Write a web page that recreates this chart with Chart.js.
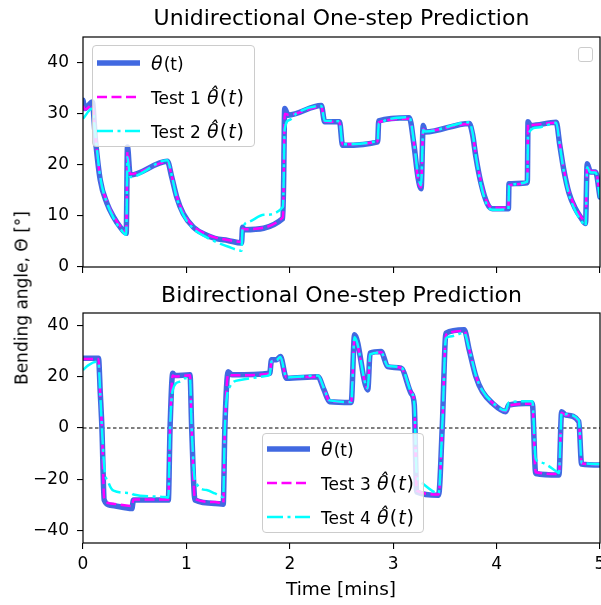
<!DOCTYPE html>
<html><head><meta charset="utf-8">
<script src="https://cdn.jsdelivr.net/npm/chart.js@4.4.0/dist/chart.umd.min.js"></script>
<style>
html,body{margin:0;padding:0;background:#fff;}
#wrap{position:relative;width:601px;height:605px;overflow:hidden;font-family:'DejaVu Sans',sans-serif;color:#000;}
canvas{position:absolute;left:0;}
.title{position:absolute;left:83px;width:517px;text-align:center;font-size:22px;line-height:22px;white-space:nowrap;z-index:3;}
.lbl{position:absolute;font-size:17px;line-height:17px;white-space:nowrap;z-index:3;}
.legend{position:absolute;border:1px solid #cccccc;border-radius:4px;background:rgba(255,255,255,0.8);box-sizing:border-box;z-index:4;}
.row{position:absolute;left:0;height:34px;display:flex;align-items:center;font-size:17px;white-space:nowrap;}
.row svg{margin-left:4px;margin-right:11px;display:block;}
.m{font-size:19px;letter-spacing:1px;margin-left:1px;}
.m1{font-size:19px;margin-right:1px;}
</style></head>
<body>
<div id="wrap">
  <canvas id="top" width="601" height="280" style="top:0;width:601px;height:280px"></canvas>
  <canvas id="bot" width="601" height="325" style="top:280px;width:601px;height:325px"></canvas>

  <div class="title" style="top:7px">Unidirectional One-step Prediction</div>
  <div class="title" style="top:284px">Bidirectional One-step Prediction</div>
  <div class="lbl" style="left:22px;top:298px;transform:translate(-50%,-50%) rotate(-90deg);">Bending angle, Θ [°]</div>
  <div class="lbl" style="left:341px;top:589px;font-size:18.5px;line-height:18.5px;transform:translate(-50%,-50%);">Time [mins]</div>

  <div class="legend" style="left:92px;top:45px;width:163px;height:102px;">
    <div class="row" style="top:0px"><svg width="43" height="10"><line x1="0" y1="5" x2="43" y2="5" stroke="#4169E1" stroke-width="5.5"/></svg><span><i class="m1">θ</i>(t)</span></div>
    <div class="row" style="top:33.5px"><svg width="43" height="10"><line x1="0" y1="5" x2="43" y2="5" stroke="#FF00FF" stroke-width="2.5" stroke-dasharray="10 4.5"/></svg><span>Test 1 <span class="m"><i>θ̂</i>(<i>t</i>)</span></span></div>
    <div class="row" style="top:67.5px"><svg width="43" height="10"><line x1="0" y1="5" x2="43" y2="5" stroke="#00FFFF" stroke-width="2.5" stroke-dasharray="16 4.5 3 4.5"/></svg><span>Test 2 <span class="m"><i>θ̂</i>(<i>t</i>)</span></span></div>
  </div>
  <div class="legend" style="left:578px;top:47px;width:15px;height:15px;border-radius:3px;"></div>

  <div class="legend" style="left:262px;top:433px;width:162px;height:100px;">
    <div class="row" style="top:-2px"><svg width="43" height="10"><line x1="0" y1="5" x2="43" y2="5" stroke="#4169E1" stroke-width="5.5"/></svg><span><i class="m1">θ</i>(t)</span></div>
    <div class="row" style="top:31.5px"><svg width="43" height="10"><line x1="0" y1="5" x2="43" y2="5" stroke="#FF00FF" stroke-width="2.5" stroke-dasharray="10 4.5"/></svg><span>Test 3 <span class="m"><i>θ̂</i>(<i>t</i>)</span></span></div>
    <div class="row" style="top:65.5px"><svg width="43" height="10"><line x1="0" y1="5" x2="43" y2="5" stroke="#00FFFF" stroke-width="2.5" stroke-dasharray="16 4.5 3 4.5"/></svg><span>Test 4 <span class="m"><i>θ̂</i>(<i>t</i>)</span></span></div>
  </div>
</div>
<script>
// ---------- DATA (time in minutes, angle in degrees) ----------
const xTickValues = [0, 1, 2, 3, 4, 5];
const uniYTicks = [0, 10, 20, 30, 40];
const biYTicks = [-40, -20, 0, 20, 40];

// Unidirectional: measured theta(t) and Test 1 share sample times
const uniTime = [0,0.02,0.09,0.12,0.167,0.231,0.295,0.36,0.418,0.43,0.456,0.816,0.858,0.906,0.97,1.067,1.196,1.276,1.40,1.533,1.543,1.56,1.934,1.951,1.983,2.305,2.337,2.481,2.51,2.85,2.86,3.156,3.20,3.24,3.27,3.29,3.31,3.735,3.767,3.80,3.85,3.91,3.96,4.114,4.12,4.297,4.304,4.33,4.577,4.61,4.65,4.70,4.76,4.82,4.86,4.876,4.908,4.957,5.0];
const uniTheta = [32.6,31.0,32.3,25.0,17.0,12.5,9.8,7.8,6.6,23.5,18.0,20.7,17.6,13.7,10.4,7.8,6.2,5.6,5.2,4.7,7.8,7.3,9.5,31.0,29.7,31.6,28.4,28.4,23.8,24.5,28.6,29.2,24.0,17.5,15.3,27.7,26.4,28.1,26.0,21.5,16.3,12.4,11.4,11.4,16.3,16.5,28.4,27.7,28.3,24.0,19.0,14.5,11.5,9.5,8.5,20.2,18.6,18.6,13.7];
const uniTest1 = [31.5,30.8,31.8,25.5,17.3,12.8,10.0,8.0,6.9,22.5,18.2,20.5,17.8,13.9,10.6,8.0,6.4,5.8,5.3,4.9,7.5,7.4,9.7,30.0,29.8,31.4,28.5,28.3,24.0,24.6,28.3,29.0,24.3,17.0,15.6,27.0,26.6,28.0,26.2,21.8,16.6,12.6,11.6,11.6,16.0,16.6,28.0,27.8,28.2,24.2,19.2,14.8,11.7,9.7,8.8,19.8,18.8,18.7,14.0];
const uniTest2Time = [0,0.09,0.12,0.167,0.231,0.295,0.36,0.418,0.43,0.456,0.816,0.858,0.906,0.97,1.067,1.196,1.276,1.40,1.533,1.543,1.60,1.75,1.934,1.951,2.00,2.06,2.305,2.337,2.481,2.51,2.85,2.86,3.156,3.20,3.24,3.27,3.29,3.31,3.735,3.767,3.80,3.85,3.91,3.96,4.114,4.12,4.297,4.304,4.40,4.577,4.61,4.65,4.70,4.76,4.82,4.86,4.876,4.908,4.957,5.0];
const uniTest2 = [29.0,31.0,25.8,17.5,12.6,9.6,7.5,6.3,21.5,17.6,20.9,17.9,13.6,10.2,7.5,5.8,5.0,4.0,3.2,7.4,8.8,10.2,11.8,27.0,28.8,30.0,31.5,28.6,28.5,24.0,24.7,28.0,29.3,24.5,18.0,16.0,26.8,26.5,28.3,26.3,21.6,16.0,12.0,11.2,11.3,16.0,16.7,26.0,27.3,28.2,24.0,18.8,14.2,11.0,9.0,8.0,19.5,18.5,18.5,13.5];

// Bidirectional: measured theta(t) and Test 3 share sample times
const biTime = [0,0.15,0.167,0.183,0.205,0.263,0.473,0.488,0.825,0.842,0.868,0.89,1.035,1.051,1.083,1.276,1.356,1.372,1.404,1.44,1.806,1.823,1.871,1.909,1.967,2.272,2.33,2.385,2.594,2.626,2.754,2.777,2.883,2.947,3.076,3.173,3.204,3.227,3.439,3.474,3.51,3.687,3.735,3.80,3.863,3.96,4.089,4.118,4.345,4.378,4.603,4.629,4.667,4.795,4.822,5.0];
const biTheta = [27.3,27.3,13.7,0,-28.2,-30.2,-31.5,-28.2,-28.2,0,21.4,20.5,20.8,0,-28.2,-29.5,-29.8,0,22.0,20.8,21.4,26.7,26.7,28.0,19.5,20.1,15.0,10.3,10.0,36.5,14.9,29.3,29.9,24.0,23.4,13.6,9.0,-25.0,-26.3,0,37.1,38.4,30.6,20.1,14.2,9.7,6.4,9.0,9.7,-17.8,-18.4,6.4,5.1,2.5,-14.1,-14.5];
const biTest3 = [27.0,27.0,13.0,0,-27.5,-29.5,-30.5,-28.0,-28.0,0,20.5,20.2,20.6,0,-27.8,-29.0,-29.5,0,21.0,20.6,21.2,26.0,26.5,27.5,19.8,20.0,15.3,10.5,10.2,35.0,15.5,28.8,29.6,24.2,23.5,14.0,9.5,-24.5,-26.0,0,36.5,38.0,30.8,20.3,14.4,9.9,6.6,8.8,9.5,-17.3,-18.0,6.0,5.0,2.7,-13.8,-14.3];
const biTest4Time = [0,0.05,0.13,0.15,0.167,0.183,0.205,0.25,0.295,0.47,0.488,0.79,0.825,0.842,0.868,0.94,0.99,1.035,1.051,1.083,1.196,1.276,1.356,1.372,1.42,1.52,1.78,1.806,1.823,1.871,1.909,1.967,2.272,2.33,2.385,2.594,2.626,2.754,2.777,2.883,2.947,3.076,3.173,3.204,3.227,3.26,3.439,3.474,3.51,3.55,3.687,3.735,3.80,3.863,3.96,4.089,4.118,4.345,4.378,4.43,4.58,4.603,4.629,4.667,4.795,4.822,5.0];
const biTest4 = [22.7,24.5,25.9,25.5,13.0,0,-15.0,-21.7,-24.5,-25.6,-26.0,-27.0,-27.2,0,14.9,18.2,19.5,19.3,0,-20.4,-24.3,-25.6,-27.0,0,16.2,18.8,20.4,21.0,26.0,26.5,27.8,19.8,20.5,15.5,10.8,10.2,35.5,15.5,28.8,29.6,24.3,23.8,14.0,9.5,-18.0,-21.0,-25.5,0,35.0,35.8,37.2,30.8,20.5,14.6,10.0,6.8,10.0,10.5,-12.0,-13.5,-17.0,-17.6,6.0,5.4,3.0,-13.5,-14.2];
const zeroLineTime = [0, 5];
const zeroLineValue = [0, 0];

// ---------- RENDER ----------
const FONT = "'DejaVu Sans', sans-serif";
const pts = (xs, ys) => xs.map((x, i) => ({x: x, y: ys[i]}));
const fmt = v => (v < 0 ? '\u2212' + Math.abs(v) : String(v));

const spinePlugin = {
  id: 'spines',
  afterDraw(chart) {
    const a = chart.chartArea, c = chart.ctx;
    c.save();
    c.strokeStyle = '#000';
    c.lineWidth = 1.2;
    c.strokeRect(a.left, a.top, a.right - a.left, a.bottom - a.top);
    c.restore();
  }
};

function series(data, kind, order) {
  const base = {data: data, pointRadius: 0, pointHoverRadius: 0, fill: false,
    cubicInterpolationMode: 'monotone', clip: 0, order: order, borderJoinStyle: 'round'};
  if (kind === 'theta') return Object.assign(base, {borderColor: '#4169E1', borderWidth: 5.5, borderCapStyle: 'round'});
  if (kind === 'dash') return Object.assign(base, {borderColor: '#FF00FF', borderWidth: 2.5, borderDash: [10, 4.5]});
  if (kind === 'dashdot') return Object.assign(base, {borderColor: '#00FFFF', borderWidth: 2.5, borderDash: [16, 4.5, 3, 4.5]});
  return Object.assign(base, {borderColor: '#000', borderWidth: 1, borderDash: [3.5, 2.5], cubicInterpolationMode: 'default'});
}

function makeChart(id, datasets, yMin, yMax, yTicks, showXLabels, padTop, xHeight) {
  return new Chart(document.getElementById(id), {
    type: 'line',
    data: {datasets: datasets},
    plugins: [spinePlugin],
    options: {
      responsive: false, animation: false, devicePixelRatio: 1,
      layout: {padding: {left: 0, right: 1, top: padTop, bottom: 0}},
      plugins: {legend: {display: false}, tooltip: {enabled: false}, title: {display: false}},
      events: [],
      scales: {
        x: {
          type: 'linear', position: 'bottom', min: 0, max: 5,
          afterBuildTicks: s => { s.ticks = xTickValues.map(v => ({value: v})); },
          ticks: {display: showXLabels, color: '#000', font: {family: FONT, size: 17}, padding: 5,
                  maxRotation: 0, autoSkip: false, callback: v => fmt(v)},
          grid: {drawOnChartArea: false, drawTicks: true, tickLength: 6, color: '#000', lineWidth: 1.1},
          border: {display: false},
          afterFit: s => { s.height = xHeight; s.paddingLeft = 0; s.paddingRight = 0; }
        },
        y: {
          type: 'linear', position: 'left', min: yMin, max: yMax,
          afterBuildTicks: s => { s.ticks = yTicks.map(v => ({value: v})); },
          ticks: {color: '#000', font: {family: FONT, size: 17}, padding: 8, autoSkip: false, callback: v => fmt(v)},
          grid: {drawOnChartArea: false, drawTicks: true, tickLength: 6, color: '#000', lineWidth: 1.1},
          border: {display: false},
          afterFit: s => { s.width = 83; s.paddingTop = 0; s.paddingBottom = 0; }
        }
      }
    }
  });
}

makeChart('top', [
  series(pts(uniTime, uniTheta), 'theta', 3),
  series(pts(uniTime, uniTest1), 'dash', 2),
  series(pts(uniTest2Time, uniTest2), 'dashdot', 1)
], 0, 45, uniYTicks, false, 37, 13);

makeChart('bot', [
  series(pts(zeroLineTime, zeroLineValue), 'zero', 4),
  series(pts(biTime, biTheta), 'theta', 3),
  series(pts(biTime, biTest3), 'dash', 2),
  series(pts(biTest4Time, biTest4), 'dashdot', 1)
], -45, 45, biYTicks, true, 33, 62);
</script>
</body></html>
